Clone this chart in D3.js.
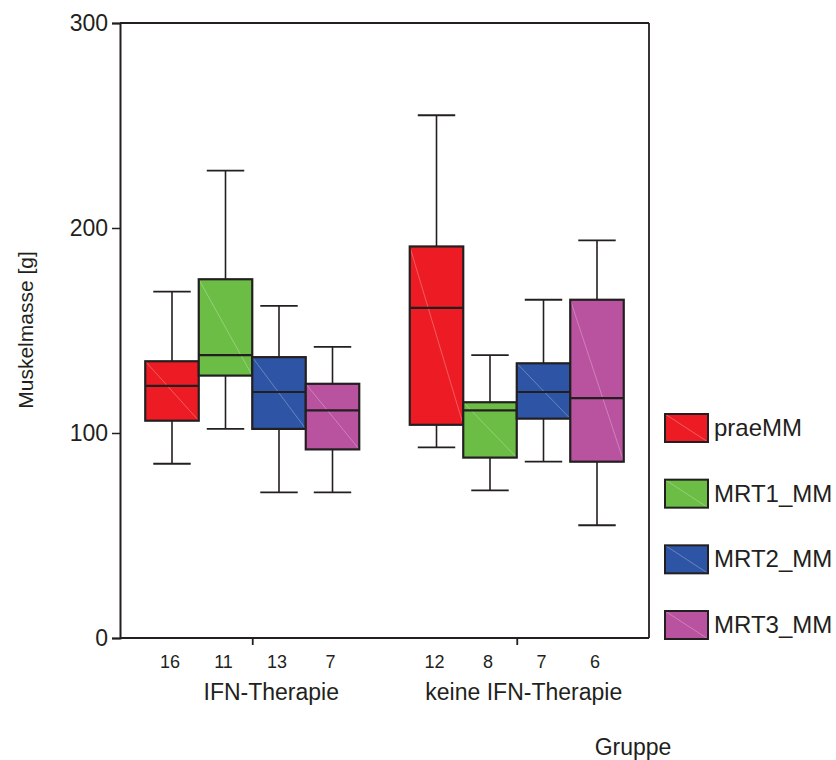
<!DOCTYPE html>
<html>
<head>
<meta charset="utf-8">
<script src="https://cdn.jsdelivr.net/npm/d3@7"></script>
<style>
  body { margin: 0; background: #fff; }
  text { font-family: "Liberation Sans", Arial, sans-serif; fill: #231f20; }
</style>
</head>
<body>
<script>
// data
const groups = ["IFN-Therapie", "keine IFN-Therapie"];
const series = ["praeMM", "MRT1_MM", "MRT2_MM", "MRT3_MM"];
const colors = ["#ed1c24", "#6cbd45", "#2e55a5", "#b9529f"];

// one row per group, one value per series
const whiskLow  = [[85, 102, 71, 71], [93, 72, 86, 55]];
const q1        = [[106, 128, 102, 92], [104, 88, 107, 86]];
const median    = [[123, 138, 120, 111], [161, 111, 120, 117]];
const q3        = [[135, 175, 137, 124], [191, 115, 134, 165]];
const whiskHigh = [[169, 228, 162, 142], [255, 138, 165, 194]];
const counts    = [[16, 11, 13, 7], [12, 8, 7, 6]];

const yTicks = [0, 100, 200, 300];

// setup
const w = 836, h = 760;
const plotLeft = 120, plotRight = 649, plotTop = 23, plotBottom = 638;
const dark = "#231f20";

const svg = d3.select("body")
    .append("svg")
    .attr("width", w)
    .attr("height", h);

const yScale = d3.scaleLinear()
    .domain([0, 300])
    .range([plotBottom, plotTop]);

const xGroup = d3.scalePoint()
    .domain(groups)
    .range([plotLeft, plotRight])
    .padding(0.5);

const groupWidth = 214;
const xSeries = d3.scaleBand()
    .domain(series)
    .range([-groupWidth / 2, groupWidth / 2]);

const boxes = [];
groups.forEach((g, gi) => {
    series.forEach((s, si) => {
        boxes.push({
            g: g, s: s, color: colors[si],
            lo: whiskLow[gi][si], q1: q1[gi][si], med: median[gi][si],
            q3: q3[gi][si], hi: whiskHigh[gi][si], n: counts[gi][si]
        });
    });
});

const bw = xSeries.bandwidth();
const capW = bw * 0.7;

const box = svg.append("g").selectAll("g")
    .data(boxes)
    .enter().append("g")
    .attr("transform", d => "translate(" + (xGroup(d.g) + xSeries(d.s)) + ",0)");

// whiskers
box.append("line")
    .attr("x1", bw / 2).attr("x2", bw / 2)
    .attr("y1", d => yScale(d.hi)).attr("y2", d => yScale(d.q3))
    .attr("stroke", dark).attr("stroke-width", 1.6);
box.append("line")
    .attr("x1", bw / 2).attr("x2", bw / 2)
    .attr("y1", d => yScale(d.q1)).attr("y2", d => yScale(d.lo))
    .attr("stroke", dark).attr("stroke-width", 1.6);
box.append("line")
    .attr("x1", bw / 2 - capW / 2).attr("x2", bw / 2 + capW / 2)
    .attr("y1", d => yScale(d.hi)).attr("y2", d => yScale(d.hi))
    .attr("stroke", dark).attr("stroke-width", 1.8);
box.append("line")
    .attr("x1", bw / 2 - capW / 2).attr("x2", bw / 2 + capW / 2)
    .attr("y1", d => yScale(d.lo)).attr("y2", d => yScale(d.lo))
    .attr("stroke", dark).attr("stroke-width", 1.8);

// boxes
box.append("rect")
    .attr("x", 0)
    .attr("width", bw)
    .attr("y", d => yScale(d.q3))
    .attr("height", d => yScale(d.q1) - yScale(d.q3))
    .attr("fill", d => d.color);
// faint diagonal like in the original
box.append("line")
    .attr("x1", 0).attr("x2", bw)
    .attr("y1", d => yScale(d.q3)).attr("y2", d => yScale(d.q1))
    .attr("stroke", "#fff").attr("stroke-opacity", 0.35).attr("stroke-width", 0.8);
box.append("rect")
    .attr("x", 0)
    .attr("width", bw)
    .attr("y", d => yScale(d.q3))
    .attr("height", d => yScale(d.q1) - yScale(d.q3))
    .attr("fill", "none")
    .attr("stroke", dark).attr("stroke-width", 2.2);
box.append("line")
    .attr("x1", 0).attr("x2", bw)
    .attr("y1", d => yScale(d.med)).attr("y2", d => yScale(d.med))
    .attr("stroke", dark).attr("stroke-width", 2.2);

// counts under the boxes
box.append("text")
    .attr("x", bw / 2 - 2)
    .attr("y", 668)
    .attr("text-anchor", "middle")
    .style("font-size", "18px")
    .text(d => d.n);

// frame
svg.append("line")
    .attr("x1", plotLeft).attr("x2", plotRight).attr("y1", plotTop).attr("y2", plotTop)
    .attr("stroke", dark).attr("stroke-width", 1.8);
svg.append("line")
    .attr("x1", plotRight).attr("x2", plotRight).attr("y1", plotTop).attr("y2", plotBottom)
    .attr("stroke", dark).attr("stroke-width", 1.8);

// axes
const yAxis = d3.axisLeft(yScale)
    .tickValues(yTicks)
    .tickSize(8)
    .tickPadding(4);
const yG = svg.append("g")
    .attr("transform", "translate(" + plotLeft + ",0)")
    .call(yAxis);
yG.select(".domain").attr("stroke", dark).attr("stroke-width", 2);
yG.selectAll(".tick line").attr("stroke", dark).attr("stroke-width", 1.5);
yG.selectAll(".tick text")
    .style("font-size", "23px")
    .style("font-family", "'Liberation Sans', Arial, sans-serif")
    .attr("fill", dark);

const xAxis = d3.axisBottom(xGroup)
    .tickSize(7)
    .tickFormat("");
const xG = svg.append("g")
    .attr("transform", "translate(0," + plotBottom + ")")
    .call(xAxis);
xG.select(".domain").attr("stroke", dark).attr("stroke-width", 2)
    .attr("d", "M" + plotLeft + ",0H" + plotRight);
xG.selectAll(".tick line").attr("stroke", dark).attr("stroke-width", 1.8);

// group labels sit a bit right of the ticks in the original
svg.append("g").selectAll("text")
    .data(groups)
    .enter().append("text")
    .attr("x", d => xGroup(d))
    .attr("dx", (d, i) => i === 0 ? 19 : 7)
    .attr("y", 700)
    .attr("text-anchor", "middle")
    .style("font-size", "23px")
    .text(d => d);

// axis titles
svg.append("text")
    .attr("transform", "translate(33,330) rotate(-90)")
    .attr("text-anchor", "middle")
    .style("font-size", "21px")
    .text("Muskelmasse [g]");
svg.append("text")
    .attr("x", 633)
    .attr("y", 755)
    .attr("text-anchor", "middle")
    .style("font-size", "23px")
    .text("Gruppe");

// legend
const legendY = d3.scalePoint()
    .domain(series)
    .range([428, 625]);
const leg = svg.append("g").selectAll("g")
    .data(series)
    .enter().append("g")
    .attr("transform", d => "translate(665," + legendY(d) + ")");
leg.append("rect")
    .attr("x", 0).attr("y", -14)
    .attr("width", 43).attr("height", 28)
    .attr("fill", (d, i) => colors[i]);
leg.append("line")
    .attr("x1", 0).attr("y1", -14).attr("x2", 43).attr("y2", 14)
    .attr("stroke", "#fff").attr("stroke-opacity", 0.35).attr("stroke-width", 0.8);
leg.append("rect")
    .attr("x", 0).attr("y", -14)
    .attr("width", 43).attr("height", 28)
    .attr("fill", "none")
    .attr("stroke", dark).attr("stroke-width", 2);
leg.append("text")
    .attr("x", 49)
    .attr("y", 8)
    .style("font-size", "24px")
    .text(d => d);
</script>
</body>
</html>
